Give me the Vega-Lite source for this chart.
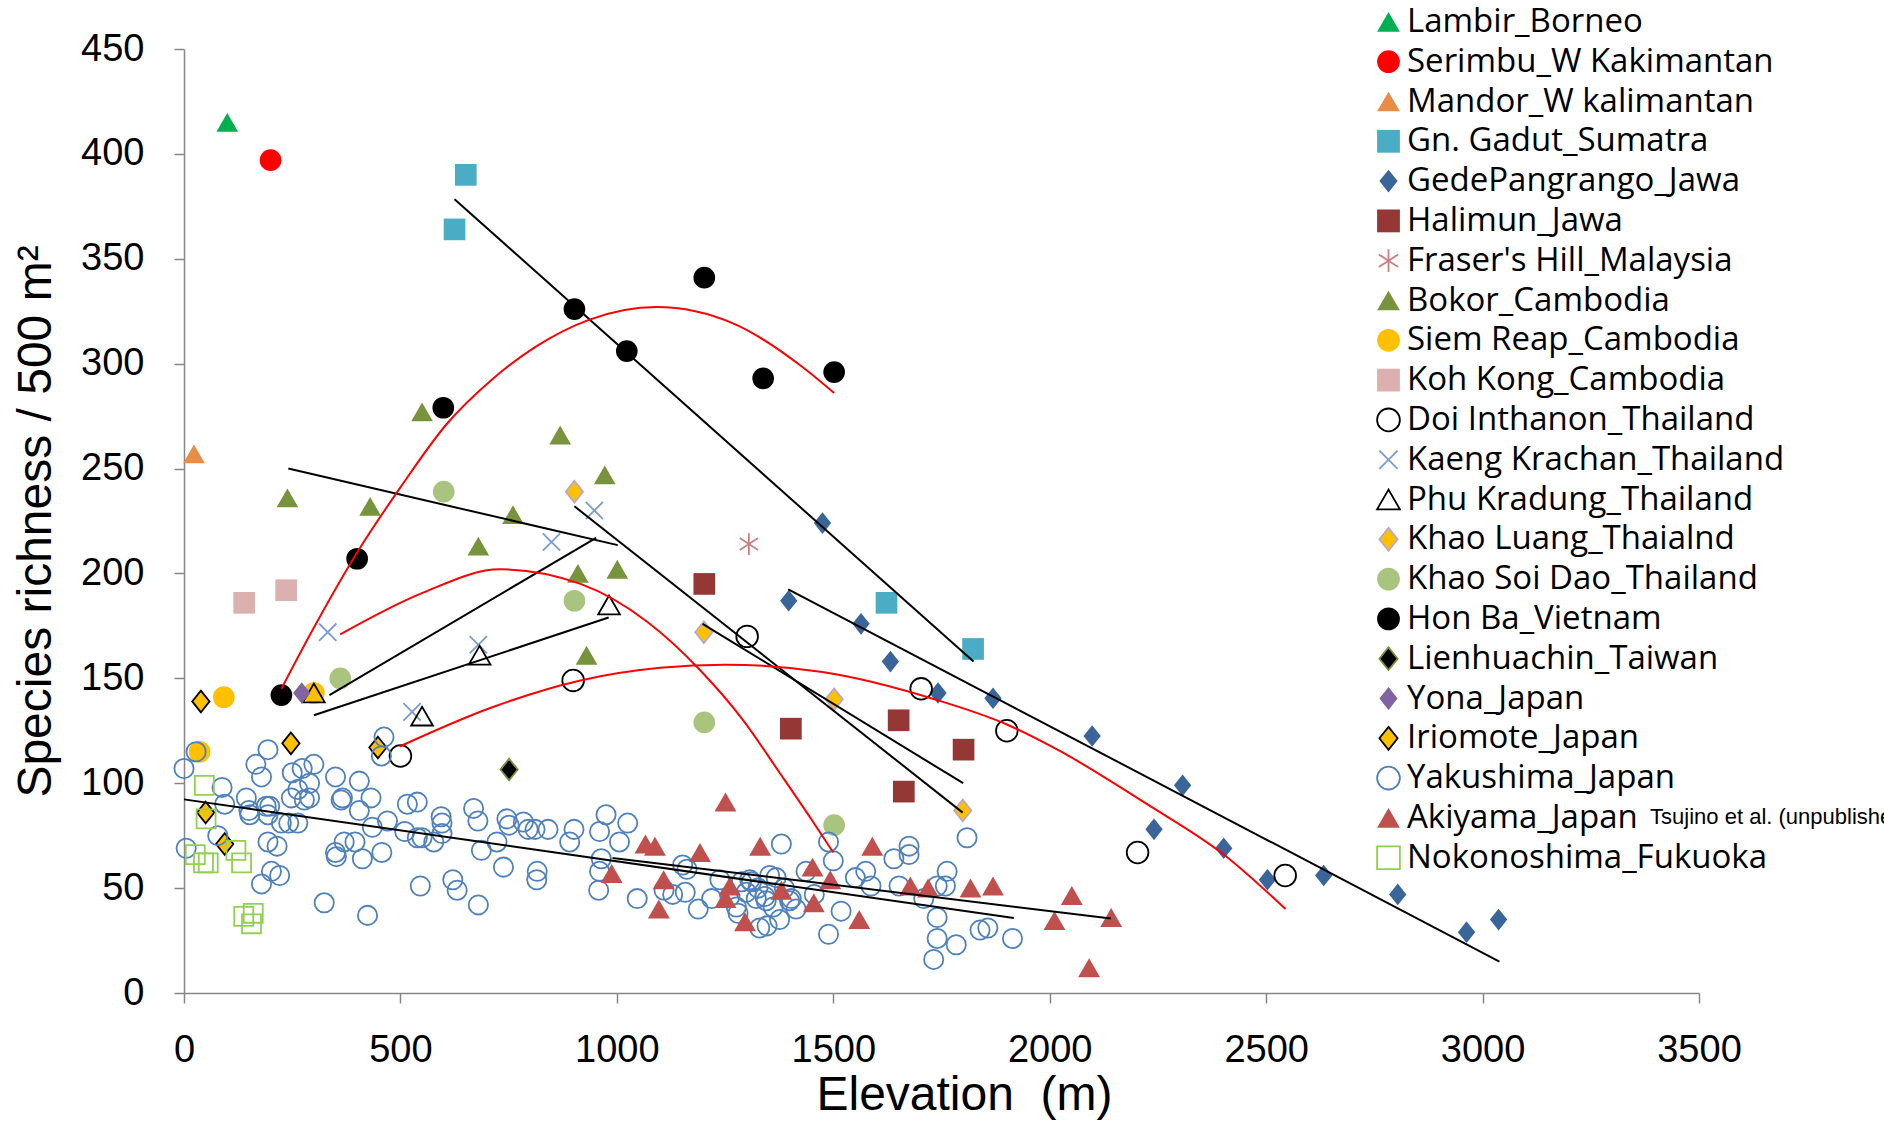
{
"$schema": "https://vega.github.io/schema/vega-lite/v6.json",
"width": 1515, "height": 944,
"autosize": {"type": "none"},
"padding": {"left": 184, "top": 49, "right": 185, "bottom": 131},
"background": "white",
"config": {
 "view": {"stroke": null},
 "axis": {"grid": false, "domainColor": "#868686", "domainWidth": 1.5, "tickColor": "#868686", "tickWidth": 1.5, "tickSize": 10,
  "labelFont": "Liberation Sans", "labelFontSize": 38, "labelColor": "#000000",
  "titleFont": "Liberation Sans", "titleFontSize": 48, "titleFontWeight": "normal", "titleColor": "#000000", "labelOverlap": false, "labelFlush": false}
},
"datasets": {
 "pts": [
  {"s":"Lambir_Borneo","x":100,"y":415},
  {"s":"Serimbu_W Kakimantan","x":200,"y":397},
  {"s":"Mandor_W kalimantan","x":23,"y":257},
  {"s":"Gn. Gadut_Sumatra","x":651,"y":390},{"s":"Gn. Gadut_Sumatra","x":625,"y":364},{"s":"Gn. Gadut_Sumatra","x":1623,"y":186},{"s":"Gn. Gadut_Sumatra","x":1823,"y":164},
  {"s":"GedePangrango_Jawa","x":1475,"y":224},{"s":"GedePangrango_Jawa","x":1397,"y":187},{"s":"GedePangrango_Jawa","x":1564,"y":176},{"s":"GedePangrango_Jawa","x":1632,"y":158},{"s":"GedePangrango_Jawa","x":1742,"y":143},{"s":"GedePangrango_Jawa","x":1869,"y":140.5},{"s":"GedePangrango_Jawa","x":2098,"y":122.5},{"s":"GedePangrango_Jawa","x":2241,"y":78},{"s":"GedePangrango_Jawa","x":2307,"y":99},{"s":"GedePangrango_Jawa","x":2402,"y":69},{"s":"GedePangrango_Jawa","x":2503,"y":54},{"s":"GedePangrango_Jawa","x":2633,"y":56},{"s":"GedePangrango_Jawa","x":2804,"y":47},{"s":"GedePangrango_Jawa","x":2963,"y":29},{"s":"GedePangrango_Jawa","x":3037,"y":35},
  {"s":"Halimun_Jawa","x":1202,"y":195},{"s":"Halimun_Jawa","x":1402,"y":126},{"s":"Halimun_Jawa","x":1651,"y":130},{"s":"Halimun_Jawa","x":1663,"y":96},{"s":"Halimun_Jawa","x":1801,"y":116},
  {"s":"Fraser's Hill_Malaysia","x":1305,"y":214},
  {"s":"Bokor_Cambodia","x":550,"y":277},{"s":"Bokor_Cambodia","x":239,"y":236},{"s":"Bokor_Cambodia","x":430,"y":232},{"s":"Bokor_Cambodia","x":869,"y":266},{"s":"Bokor_Cambodia","x":972,"y":247},{"s":"Bokor_Cambodia","x":760,"y":228},{"s":"Bokor_Cambodia","x":680,"y":213},{"s":"Bokor_Cambodia","x":910,"y":200},{"s":"Bokor_Cambodia","x":1001,"y":202},{"s":"Bokor_Cambodia","x":930,"y":161},
  {"s":"Siem Reap_Cambodia","x":92,"y":141},{"s":"Siem Reap_Cambodia","x":36,"y":115},{"s":"Siem Reap_Cambodia","x":300,"y":143},
  {"s":"Koh Kong_Cambodia","x":139,"y":186},{"s":"Koh Kong_Cambodia","x":236,"y":192},
  {"s":"Doi Inthanon_Thailand","x":500,"y":113},{"s":"Doi Inthanon_Thailand","x":899,"y":149},{"s":"Doi Inthanon_Thailand","x":1301,"y":170},{"s":"Doi Inthanon_Thailand","x":1703,"y":145},{"s":"Doi Inthanon_Thailand","x":1901,"y":125},{"s":"Doi Inthanon_Thailand","x":2203,"y":67},{"s":"Doi Inthanon_Thailand","x":2544,"y":56},
  {"s":"Kaeng Krachan_Thailand","x":332,"y":172},{"s":"Kaeng Krachan_Thailand","x":849,"y":215},{"s":"Kaeng Krachan_Thailand","x":948,"y":230},{"s":"Kaeng Krachan_Thailand","x":680,"y":166},{"s":"Kaeng Krachan_Thailand","x":527,"y":134},
  {"s":"Phu Kradung_Thailand","x":300,"y":143},{"s":"Phu Kradung_Thailand","x":550,"y":132},{"s":"Phu Kradung_Thailand","x":683,"y":161},{"s":"Phu Kradung_Thailand","x":982,"y":185},
  {"s":"Khao Luang_Thaialnd","x":902,"y":239},{"s":"Khao Luang_Thaialnd","x":1201,"y":172},{"s":"Khao Luang_Thaialnd","x":1502,"y":140},{"s":"Khao Luang_Thaialnd","x":1799,"y":87},
  {"s":"Khao Soi Dao_Thailand","x":600,"y":239},{"s":"Khao Soi Dao_Thailand","x":902,"y":187},{"s":"Khao Soi Dao_Thailand","x":361,"y":150},{"s":"Khao Soi Dao_Thailand","x":1202,"y":129},{"s":"Khao Soi Dao_Thailand","x":1502,"y":80},
  {"s":"Hon Ba_Vietnam","x":225,"y":142},{"s":"Hon Ba_Vietnam","x":400,"y":207},{"s":"Hon Ba_Vietnam","x":599,"y":279},{"s":"Hon Ba_Vietnam","x":902,"y":326},{"s":"Hon Ba_Vietnam","x":1023,"y":306},{"s":"Hon Ba_Vietnam","x":1202,"y":341},{"s":"Hon Ba_Vietnam","x":1338,"y":293},{"s":"Hon Ba_Vietnam","x":1502,"y":296},
  {"s":"Lienhuachin_Taiwan","x":751,"y":106.5},
  {"s":"Yona_Japan","x":272,"y":143},
  {"s":"Iriomote_Japan","x":39,"y":139},{"s":"Iriomote_Japan","x":247,"y":119},{"s":"Iriomote_Japan","x":448,"y":117},{"s":"Iriomote_Japan","x":50,"y":86},{"s":"Iriomote_Japan","x":94,"y":71},
  {"s":"Yakushima_Japan","x":0,"y":107},{"s":"Yakushima_Japan","x":28,"y":115},{"s":"Yakushima_Japan","x":5,"y":69},{"s":"Yakushima_Japan","x":88,"y":98},{"s":"Yakushima_Japan","x":94,"y":90},{"s":"Yakushima_Japan","x":78,"y":75},{"s":"Yakushima_Japan","x":194,"y":116},{"s":"Yakushima_Japan","x":166,"y":109},{"s":"Yakushima_Japan","x":179,"y":103},{"s":"Yakushima_Japan","x":144,"y":93},{"s":"Yakushima_Japan","x":152,"y":85},{"s":"Yakushima_Japan","x":150,"y":87},{"s":"Yakushima_Japan","x":190,"y":89},{"s":"Yakushima_Japan","x":198,"y":89},{"s":"Yakushima_Japan","x":194,"y":85},{"s":"Yakushima_Japan","x":194,"y":72},{"s":"Yakushima_Japan","x":215,"y":70},{"s":"Yakushima_Japan","x":202,"y":58},{"s":"Yakushima_Japan","x":221,"y":56},{"s":"Yakushima_Japan","x":179,"y":52},{"s":"Yakushima_Japan","x":250,"y":105},{"s":"Yakushima_Japan","x":273,"y":107},{"s":"Yakushima_Japan","x":300,"y":109},{"s":"Yakushima_Japan","x":290,"y":100},{"s":"Yakushima_Japan","x":248,"y":93},{"s":"Yakushima_Japan","x":263,"y":97},{"s":"Yakushima_Japan","x":278,"y":92},{"s":"Yakushima_Japan","x":290,"y":93},{"s":"Yakushima_Japan","x":225,"y":81},{"s":"Yakushima_Japan","x":242,"y":81},{"s":"Yakushima_Japan","x":263,"y":81},{"s":"Yakushima_Japan","x":350,"y":103},{"s":"Yakushima_Japan","x":405,"y":101},{"s":"Yakushima_Japan","x":366,"y":93},{"s":"Yakushima_Japan","x":363,"y":92},{"s":"Yakushima_Japan","x":432,"y":93},{"s":"Yakushima_Japan","x":405,"y":87},{"s":"Yakushima_Japan","x":350,"y":67},{"s":"Yakushima_Japan","x":352,"y":65},{"s":"Yakushima_Japan","x":370,"y":72},{"s":"Yakushima_Japan","x":395,"y":72},{"s":"Yakushima_Japan","x":412,"y":64},{"s":"Yakushima_Japan","x":457,"y":67},{"s":"Yakushima_Japan","x":435,"y":79},{"s":"Yakushima_Japan","x":470,"y":82},{"s":"Yakushima_Japan","x":462,"y":122},{"s":"Yakushima_Japan","x":456,"y":113},{"s":"Yakushima_Japan","x":324,"y":43},{"s":"Yakushima_Japan","x":424,"y":37},{"s":"Yakushima_Japan","x":510,"y":77},{"s":"Yakushima_Japan","x":516,"y":90},{"s":"Yakushima_Japan","x":539,"y":91},{"s":"Yakushima_Japan","x":539,"y":74},{"s":"Yakushima_Japan","x":550,"y":74},{"s":"Yakushima_Japan","x":577,"y":72},{"s":"Yakushima_Japan","x":594,"y":84},{"s":"Yakushima_Japan","x":596,"y":81},{"s":"Yakushima_Japan","x":596,"y":76},{"s":"Yakushima_Japan","x":546,"y":51},{"s":"Yakushima_Japan","x":621,"y":54},{"s":"Yakushima_Japan","x":631,"y":49},{"s":"Yakushima_Japan","x":669,"y":88},{"s":"Yakushima_Japan","x":679,"y":82},{"s":"Yakushima_Japan","x":723,"y":72},{"s":"Yakushima_Japan","x":687,"y":68},{"s":"Yakushima_Japan","x":680,"y":42},{"s":"Yakushima_Japan","x":738,"y":60},{"s":"Yakushima_Japan","x":746,"y":83},{"s":"Yakushima_Japan","x":751,"y":80},{"s":"Yakushima_Japan","x":784,"y":81.5},{"s":"Yakushima_Japan","x":795,"y":78},{"s":"Yakushima_Japan","x":811,"y":78},{"s":"Yakushima_Japan","x":841,"y":78},{"s":"Yakushima_Japan","x":816,"y":58},{"s":"Yakushima_Japan","x":815,"y":54},{"s":"Yakushima_Japan","x":901,"y":78},{"s":"Yakushima_Japan","x":891,"y":72},{"s":"Yakushima_Japan","x":975,"y":85},{"s":"Yakushima_Japan","x":960,"y":77},{"s":"Yakushima_Japan","x":964,"y":64},{"s":"Yakushima_Japan","x":960,"y":58},{"s":"Yakushima_Japan","x":958,"y":49},{"s":"Yakushima_Japan","x":1025,"y":81},{"s":"Yakushima_Japan","x":1006,"y":72},{"s":"Yakushima_Japan","x":1047,"y":45},{"s":"Yakushima_Japan","x":1109,"y":49},{"s":"Yakushima_Japan","x":1129,"y":47},{"s":"Yakushima_Japan","x":1152,"y":61},
  {"s":"Yakushima_Japan","x":1162,"y":59},{"s":"Yakushima_Japan","x":1158,"y":48},{"s":"Yakushima_Japan","x":1188,"y":40},{"s":"Yakushima_Japan","x":1219,"y":45},{"s":"Yakushima_Japan","x":1238,"y":54},{"s":"Yakushima_Japan","x":1276,"y":41},{"s":"Yakushima_Japan","x":1288,"y":53},{"s":"Yakushima_Japan","x":1311,"y":53},{"s":"Yakushima_Japan","x":1330,"y":31},{"s":"Yakushima_Japan","x":1347,"y":32},{"s":"Yakushima_Japan","x":1326,"y":50},{"s":"Yakushima_Japan","x":1342,"y":46},{"s":"Yakushima_Japan","x":1353,"y":56},{"s":"Yakushima_Japan","x":1368,"y":55},{"s":"Yakushima_Japan","x":1376,"y":35},{"s":"Yakushima_Japan","x":1380,"y":71},{"s":"Yakushima_Japan","x":1387,"y":50},{"s":"Yakushima_Japan","x":1414,"y":40},{"s":"Yakushima_Japan","x":1403,"y":45},{"s":"Yakushima_Japan","x":1437,"y":58},{"s":"Yakushima_Japan","x":1456,"y":47},{"s":"Yakushima_Japan","x":1489,"y":72},{"s":"Yakushima_Japan","x":1500,"y":63},{"s":"Yakushima_Japan","x":1489,"y":28},{"s":"Yakushima_Japan","x":1518,"y":39},{"s":"Yakushima_Japan","x":1551,"y":55},{"s":"Yakushima_Japan","x":1575,"y":58},{"s":"Yakushima_Japan","x":1587,"y":51},{"s":"Yakushima_Japan","x":1640,"y":64},{"s":"Yakushima_Japan","x":1675,"y":70},{"s":"Yakushima_Japan","x":1675,"y":66},{"s":"Yakushima_Japan","x":1652,"y":51},{"s":"Yakushima_Japan","x":1709,"y":45},{"s":"Yakushima_Japan","x":1740,"y":51},{"s":"Yakushima_Japan","x":1759,"y":51},{"s":"Yakushima_Japan","x":1763,"y":58},{"s":"Yakushima_Japan","x":1740,"y":36},{"s":"Yakushima_Japan","x":1740,"y":26},{"s":"Yakushima_Japan","x":1732,"y":16},{"s":"Yakushima_Japan","x":1784,"y":23},{"s":"Yakushima_Japan","x":1839,"y":30},{"s":"Yakushima_Japan","x":1857,"y":31},{"s":"Yakushima_Japan","x":1914,"y":26},{"s":"Yakushima_Japan","x":1809,"y":74},
  {"s":"Yakushima_Japan","x":1280,"y":38},{"s":"Yakushima_Japan","x":1307,"y":54},{"s":"Yakushima_Japan","x":1399,"y":44},{"s":"Yakushima_Japan","x":1345,"y":44},{"s":"Yakushima_Japan","x":1361,"y":41},{"s":"Yakushima_Japan","x":1322,"y":45},{"s":"Yakushima_Japan","x":1299,"y":48},{"s":"Yakushima_Japan","x":1261,"y":46},
  {"s":"Akiyama_Japan","x":1066,"y":71},{"s":"Akiyama_Japan","x":1088,"y":70},{"s":"Akiyama_Japan","x":988,"y":57},{"s":"Akiyama_Japan","x":1108,"y":54},{"s":"Akiyama_Japan","x":1097,"y":40},{"s":"Akiyama_Japan","x":1192,"y":67},{"s":"Akiyama_Japan","x":1251,"y":91},{"s":"Akiyama_Japan","x":1331,"y":70},{"s":"Akiyama_Japan","x":1590,"y":70},{"s":"Akiyama_Japan","x":1452,"y":60},{"s":"Akiyama_Japan","x":1493,"y":54},{"s":"Akiyama_Japan","x":1261,"y":51},{"s":"Akiyama_Japan","x":1380,"y":49},{"s":"Akiyama_Japan","x":1251,"y":45},{"s":"Akiyama_Japan","x":1455,"y":43},{"s":"Akiyama_Japan","x":1296,"y":34},{"s":"Akiyama_Japan","x":1560,"y":35},{"s":"Akiyama_Japan","x":1678,"y":51},{"s":"Akiyama_Japan","x":1719,"y":50},{"s":"Akiyama_Japan","x":1817,"y":50},{"s":"Akiyama_Japan","x":1869,"y":51},{"s":"Akiyama_Japan","x":2051,"y":46.5},{"s":"Akiyama_Japan","x":2011,"y":34.5},{"s":"Akiyama_Japan","x":2142,"y":36},{"s":"Akiyama_Japan","x":2091,"y":12},
  {"s":"Nokonoshima_Fukuoka","x":47,"y":99},{"s":"Nokonoshima_Fukuoka","x":51,"y":83},{"s":"Nokonoshima_Fukuoka","x":26,"y":66},{"s":"Nokonoshima_Fukuoka","x":56,"y":62},{"s":"Nokonoshima_Fukuoka","x":45,"y":62},{"s":"Nokonoshima_Fukuoka","x":120,"y":68},{"s":"Nokonoshima_Fukuoka","x":133,"y":62},{"s":"Nokonoshima_Fukuoka","x":160,"y":38},{"s":"Nokonoshima_Fukuoka","x":156,"y":33},{"s":"Nokonoshima_Fukuoka","x":138,"y":36.5}
 ],
 "linear": [
  {"id":"Gadut","x":625,"y":378.4},{"id":"Gadut","x":1824,"y":158},
  {"id":"Gede","x":1396,"y":192.4},{"id":"Gede","x":3039,"y":15},
  {"id":"Bokor","x":241,"y":250},{"id":"Bokor","x":1002,"y":213.5},
  {"id":"Kaeng","x":336,"y":142},{"id":"Kaeng","x":952,"y":217},
  {"id":"Phu","x":300,"y":132.4},{"id":"Phu","x":981,"y":179},
  {"id":"KhaoLuang","x":902,"y":232},{"id":"KhaoLuang","x":1799,"y":86},
  {"id":"Halimun","x":1198,"y":176},{"id":"Halimun","x":1800,"y":100},
  {"id":"Yakushima","x":0,"y":92.3},{"id":"Yakushima","x":1917,"y":35.7},
  {"id":"Akiyama","x":990,"y":64.4},{"id":"Akiyama","x":2141,"y":35.5}
 ],
 "quadratic": [
  {"id":"HonBa","x":225,"y":145},{"id":"HonBa","x":297,"y":173},{"id":"HonBa","x":400,"y":210},{"id":"HonBa","x":500,"y":241},{"id":"HonBa","x":606,"y":271},{"id":"HonBa","x":709,"y":292},{"id":"HonBa","x":812,"y":308},{"id":"HonBa","x":937,"y":321},{"id":"HonBa","x":1091,"y":327},{"id":"HonBa","x":1271,"y":319},{"id":"HonBa","x":1425,"y":299},{"id":"HonBa","x":1502,"y":286},
  {"id":"SoiDao","x":361,"y":171},{"id":"SoiDao","x":554,"y":191},{"id":"SoiDao","x":730,"y":202},{"id":"SoiDao","x":916,"y":195},{"id":"SoiDao","x":1070,"y":177},{"id":"SoiDao","x":1192,"y":154},{"id":"SoiDao","x":1292,"y":130},{"id":"SoiDao","x":1376,"y":105},{"id":"SoiDao","x":1452,"y":82},{"id":"SoiDao","x":1500,"y":67},
  {"id":"Doi","x":498,"y":117.5},{"id":"Doi","x":709,"y":136},{"id":"Doi","x":916,"y":149},{"id":"Doi","x":1100,"y":155},{"id":"Doi","x":1250,"y":156.5},{"id":"Doi","x":1475,"y":153},{"id":"Doi","x":1734,"y":140},{"id":"Doi","x":1901,"y":128},{"id":"Doi","x":2018,"y":116},{"id":"Doi","x":2225,"y":90},{"id":"Doi","x":2402,"y":66},{"id":"Doi","x":2545,"y":40}
 ],
 "note": [{"x":3387,"y":83.7,"t":"Tsujino et al. (unpublished)"}]
},
"layer": [
 {
  "data": {"name": "pts"},
  "transform": [{"filter": "datum.s != 'Yakushima_Japan' && datum.s != 'Akiyama_Japan' && datum.s != 'Nokonoshima_Fukuoka'"}],
  "mark": {"type": "point", "filled": true, "opacity": 1, "strokeWidth": 1.8, "size": 470},
  "encoding": {
   "x": {"field": "x", "type": "quantitative", "scale": {"domain": [0, 3500], "nice": false, "zero": false},
    "axis": {"values": [0,500,1000,1500,2000,2500,3000,3500], "format": "d", "labelPadding": 28, "title": "Elevation\u00a0\u00a0(m)", "titleX": 780, "titleY": 102, "titleAlign": "center", "titleBaseline": "middle", "titleAnchor": null}},
   "y": {"field": "y", "type": "quantitative", "scale": {"domain": [0, 450], "nice": false, "zero": false},
    "axis": {"values": [0,50,100,150,200,250,300,350,400,450], "format": "d", "labelPadding": 30, "title": "Species richness / 500 m²", "titleX": -148, "titleY": 472, "titleAngle": -90, "titleAlign": "center", "titleBaseline": "middle", "titleAnchor": null}},
   "shape": {"field": "s", "type": "nominal", "title": null,
    "legend": {"orient": "none", "legendX": 1188, "legendY": -43.6, "padding": 0, "labelFont": "Open Sans", "labelFontSize": 33, "labelColor": "#000000", "symbolSize": 520, "symbolStrokeWidth": 1.8, "rowPadding": 5.8, "labelOffset": 2, "labelLimit": 0},
    "scale": {"domain": ["Lambir_Borneo","Serimbu_W Kakimantan","Mandor_W kalimantan","Gn. Gadut_Sumatra","GedePangrango_Jawa","Halimun_Jawa","Fraser's Hill_Malaysia","Bokor_Cambodia","Siem Reap_Cambodia","Koh Kong_Cambodia","Doi Inthanon_Thailand","Kaeng Krachan_Thailand","Phu Kradung_Thailand","Khao Luang_Thaialnd","Khao Soi Dao_Thailand","Hon Ba_Vietnam","Lienhuachin_Taiwan","Yona_Japan","Iriomote_Japan","Yakushima_Japan","Akiyama_Japan","Nokonoshima_Fukuoka"],
     "range": ["triangle-up","circle","triangle-up","square","M0,-1L0.8,0L0,1L-0.8,0Z","square","M0,-1L0,1M-0.85,-0.55L0.85,0.55M-0.85,0.55L0.85,-0.55","triangle-up","circle","square","circle","M-0.8,-0.8L0.8,0.8M-0.8,0.8L0.8,-0.8","triangle-up","M0,-1L0.8,0L0,1L-0.8,0Z","circle","circle","M0,-1L0.8,0L0,1L-0.8,0Z","M0,-1L0.8,0L0,1L-0.8,0Z","M0,-1L0.8,0L0,1L-0.8,0Z","circle","triangle-up","square"]}},
   "fill": {"field": "s", "type": "nominal", "title": null,
    "legend": {"orient": "none", "legendX": 1188, "legendY": -43.6, "padding": 0, "labelFont": "Open Sans", "labelFontSize": 33, "labelColor": "#000000", "symbolSize": 520, "symbolStrokeWidth": 1.8, "rowPadding": 5.8, "labelOffset": 2, "labelLimit": 0},
    "scale": {"domain": ["Lambir_Borneo","Serimbu_W Kakimantan","Mandor_W kalimantan","Gn. Gadut_Sumatra","GedePangrango_Jawa","Halimun_Jawa","Fraser's Hill_Malaysia","Bokor_Cambodia","Siem Reap_Cambodia","Koh Kong_Cambodia","Doi Inthanon_Thailand","Kaeng Krachan_Thailand","Phu Kradung_Thailand","Khao Luang_Thaialnd","Khao Soi Dao_Thailand","Hon Ba_Vietnam","Lienhuachin_Taiwan","Yona_Japan","Iriomote_Japan","Yakushima_Japan","Akiyama_Japan","Nokonoshima_Fukuoka"],
     "range": ["#00B050","#FF0000","#E98C45","#4BACC6","#3A6598","#953735","transparent","#77933C","#FFC000","#DDB0B0","transparent","transparent","transparent","#FFC000","#A9C47F","#000000","#000000","#8064A2","#FFC000","transparent","#C0504D","transparent"]}},
   "stroke": {"field": "s", "type": "nominal", "title": null,
    "legend": {"orient": "none", "legendX": 1188, "legendY": -43.6, "padding": 0, "labelFont": "Open Sans", "labelFontSize": 33, "labelColor": "#000000", "symbolSize": 520, "symbolStrokeWidth": 1.8, "rowPadding": 5.8, "labelOffset": 2, "labelLimit": 0},
    "scale": {"domain": ["Lambir_Borneo","Serimbu_W Kakimantan","Mandor_W kalimantan","Gn. Gadut_Sumatra","GedePangrango_Jawa","Halimun_Jawa","Fraser's Hill_Malaysia","Bokor_Cambodia","Siem Reap_Cambodia","Koh Kong_Cambodia","Doi Inthanon_Thailand","Kaeng Krachan_Thailand","Phu Kradung_Thailand","Khao Luang_Thaialnd","Khao Soi Dao_Thailand","Hon Ba_Vietnam","Lienhuachin_Taiwan","Yona_Japan","Iriomote_Japan","Yakushima_Japan","Akiyama_Japan","Nokonoshima_Fukuoka"],
     "range": ["transparent","transparent","transparent","transparent","transparent","transparent","#CC8080","transparent","transparent","transparent","#000000","#7B9BD1","#000000","#B8A9CB","transparent","transparent","#77933C","transparent","#000000","#4F81BD","transparent","#92D050"]}}
  }
 },
 {
  "data": {"name": "pts"},
  "transform": [{"filter": "datum.s == 'Yakushima_Japan'"}],
  "mark": {"type": "point", "filled": true, "opacity": 1, "strokeWidth": 1.8, "size": 370},
  "encoding": {
   "x": {"field": "x", "type": "quantitative"},
   "y": {"field": "y", "type": "quantitative"},
   "shape": {"field": "s", "type": "nominal", "title": null},
   "fill": {"field": "s", "type": "nominal", "title": null},
   "stroke": {"field": "s", "type": "nominal", "title": null}
  }
 },
 {
  "data": {"name": "pts"},
  "transform": [{"filter": "datum.s == 'Akiyama_Japan'"}],
  "mark": {"type": "point", "filled": true, "opacity": 1, "strokeWidth": 1.8, "size": 480},
  "encoding": {
   "x": {"field": "x", "type": "quantitative"},
   "y": {"field": "y", "type": "quantitative"},
   "shape": {"field": "s", "type": "nominal", "title": null},
   "fill": {"field": "s", "type": "nominal", "title": null},
   "stroke": {"field": "s", "type": "nominal", "title": null}
  }
 },
 {
  "data": {"name": "pts"},
  "transform": [{"filter": "datum.s == 'Nokonoshima_Fukuoka'"}],
  "mark": {"type": "point", "filled": true, "opacity": 1, "strokeWidth": 1.8, "size": 360},
  "encoding": {
   "x": {"field": "x", "type": "quantitative"},
   "y": {"field": "y", "type": "quantitative"},
   "shape": {"field": "s", "type": "nominal", "title": null},
   "fill": {"field": "s", "type": "nominal", "title": null},
   "stroke": {"field": "s", "type": "nominal", "title": null}
  }
 },
 {
  "data": {"name": "linear"},
  "mark": {"type": "line", "color": "#000000", "strokeWidth": 2},
  "encoding": {"x": {"field": "x", "type": "quantitative"}, "y": {"field": "y", "type": "quantitative"}, "detail": {"field": "id"}}
 },
 {
  "data": {"name": "quadratic"},
  "mark": {"type": "line", "color": "#FF0000", "strokeWidth": 2, "interpolate": "monotone"},
  "encoding": {"x": {"field": "x", "type": "quantitative"}, "y": {"field": "y", "type": "quantitative"}, "detail": {"field": "id"}}
 },
 {
  "data": {"name": "note"},
  "mark": {"type": "text", "align": "left", "baseline": "middle", "font": "Liberation Sans", "fontSize": 22, "color": "#000000"},
  "encoding": {"x": {"field": "x", "type": "quantitative"}, "y": {"field": "y", "type": "quantitative"}, "text": {"field": "t"}}
 }
]
}
